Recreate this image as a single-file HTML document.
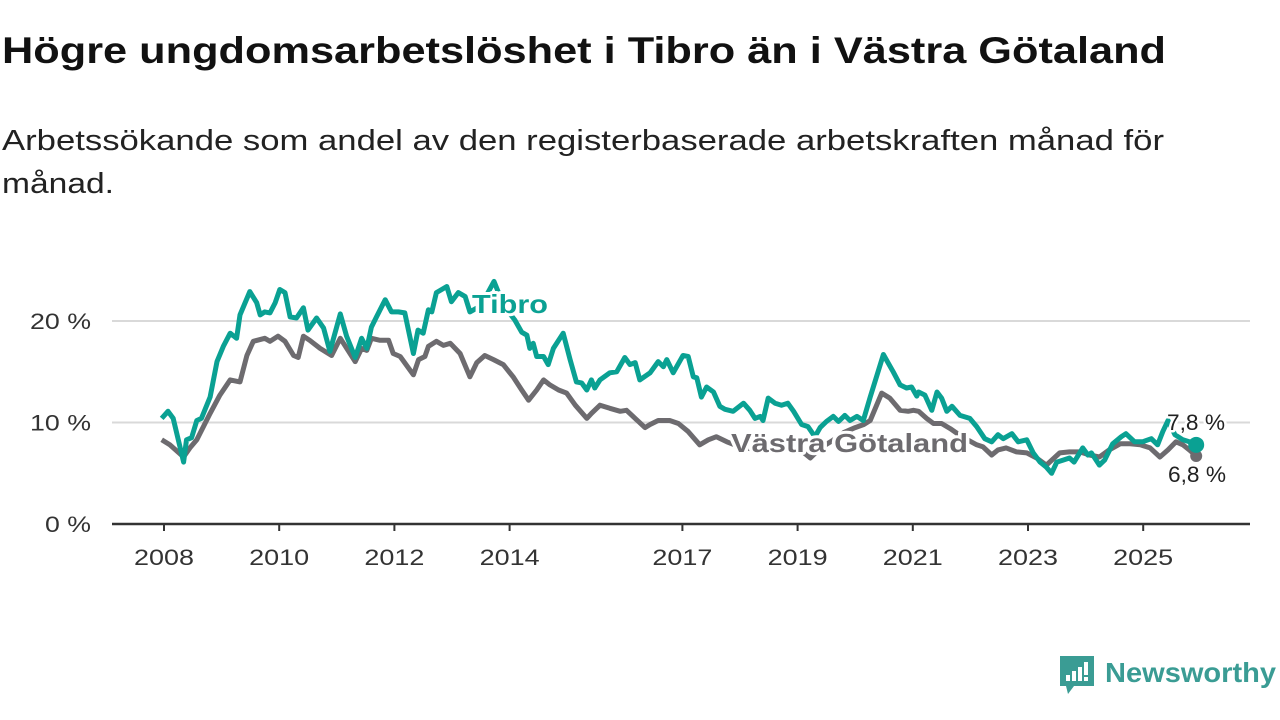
<!DOCTYPE html>
<html><head><meta charset="utf-8"><style>
html,body{margin:0;padding:0;background:#fff;}
svg{display:block;font-family:"Liberation Sans","DejaVu Sans",sans-serif;}
</style></head><body>
<svg id="chart" width="1280" height="720" viewBox="0 0 1280 720">
<text x="2" y="63" font-size="37" font-weight="bold" fill="#111" textLength="1164" lengthAdjust="spacingAndGlyphs">Högre ungdomsarbetslöshet i Tibro än i Västra Götaland</text>
<text x="2" y="150" font-size="29" fill="#222" textLength="1162" lengthAdjust="spacingAndGlyphs">Arbetssökande som andel av den registerbaserade arbetskraften månad för</text>
<text x="2" y="193" font-size="29" fill="#222" textLength="112" lengthAdjust="spacingAndGlyphs">månad.</text>
<g id="grid"></g>
<g id="xaxis"></g>
<g id="series"></g>
<g id="labels"></g>
<g>
<path d="M1060 656 h34 v30 h-20 l-6 8 l-2-8 h-6 z" fill="#3a9c94"/>
<rect x="1066" y="675" width="4" height="6" fill="#fff"/>
<rect x="1072" y="671" width="4" height="10" fill="#fff"/>
<rect x="1078" y="667" width="4" height="14" fill="#fff"/>
<rect x="1084" y="662" width="4" height="13" fill="#fff"/>
<rect x="1084" y="677" width="4" height="4" fill="#fff"/>
<text x="1105" y="682" font-size="28" font-weight="bold" fill="#3a9c94" textLength="171" lengthAdjust="spacingAndGlyphs">Newsworthy</text>
</g>
</svg>
<script>
const yTicks=[0,10,20];
const yTickLabels=["0 %","10 %","20 %"];
const xTicks=[2008,2010,2012,2014,2017,2019,2021,2023,2025];
const tibroDates=[2007.96,2008.07,2008.16,2008.34,2008.39,2008.48,2008.57,2008.65,2008.8,2008.92,2009.03,2009.15,2009.26,2009.32,2009.49,2009.61,2009.67,2009.75,2009.84,2009.93,2010.01,2010.1,2010.19,2010.3,2010.42,2010.5,2010.65,2010.77,2010.88,2011.06,2011.17,2011.32,2011.43,2011.52,2011.6,2011.69,2011.84,2011.95,2012.07,2012.18,2012.33,2012.41,2012.5,2012.59,2012.65,2012.73,2012.91,2012.99,2013.11,2013.23,2013.31,2013.5,2013.73,2013.9,2014.09,2014.21,2014.3,2014.35,2014.41,2014.47,2014.59,2014.67,2014.76,2014.93,2015.05,2015.16,2015.25,2015.34,2015.42,2015.48,2015.57,2015.74,2015.86,2016.0,2016.09,2016.18,2016.26,2016.44,2016.58,2016.67,2016.73,2016.84,2017.01,2017.1,2017.19,2017.25,2017.33,2017.42,2017.54,2017.65,2017.74,2017.88,2018.06,2018.17,2018.26,2018.35,2018.4,2018.49,2018.61,2018.72,2018.83,2018.93,2019.07,2019.18,2019.3,2019.39,2019.5,2019.62,2019.71,2019.82,2019.91,2020.03,2020.14,2020.26,2020.49,2020.66,2020.78,2020.89,2020.98,2021.07,2021.1,2021.21,2021.33,2021.42,2021.5,2021.59,2021.68,2021.82,2021.99,2022.11,2022.25,2022.37,2022.48,2022.57,2022.72,2022.83,2022.98,2023.09,2023.21,2023.32,2023.41,2023.5,2023.61,2023.72,2023.8,2023.95,2024.04,2024.1,2024.24,2024.33,2024.47,2024.62,2024.7,2024.85,2024.99,2025.14,2025.25,2025.34,2025.43,2025.55,2025.69,2025.8,2025.92];
const tibroValues=[10.4,11.1,10.4,6.1,8.3,8.5,10.2,10.4,12.5,16.0,17.5,18.8,18.3,20.6,22.9,21.8,20.6,20.9,20.8,21.8,23.1,22.8,20.4,20.3,21.3,19.1,20.3,19.3,17.0,20.7,18.5,16.4,18.3,17.3,19.4,20.4,22.1,20.9,20.9,20.8,16.8,19.1,18.8,21.1,20.9,22.8,23.4,21.9,22.8,22.4,20.9,21.5,23.9,21.5,20.1,18.9,18.6,17.3,17.8,16.5,16.5,15.7,17.3,18.8,16.2,14.0,13.9,13.2,14.2,13.4,14.2,14.9,15.0,16.4,15.7,15.9,14.2,14.9,16.0,15.5,16.2,14.9,16.6,16.5,14.5,14.4,12.5,13.5,13.0,11.6,11.3,11.1,11.9,11.2,10.4,10.6,10.2,12.4,11.9,11.7,11.9,11.1,9.8,9.6,8.6,9.5,10.1,10.6,10.1,10.7,10.2,10.6,10.2,12.5,16.7,15.0,13.7,13.4,13.5,12.6,13.0,12.7,11.2,13.0,12.4,11.1,11.6,10.7,10.4,9.6,8.4,8.1,8.8,8.4,8.9,8.1,8.3,7.0,6.1,5.6,5.0,6.1,6.3,6.5,6.1,7.5,6.8,7.0,5.8,6.3,7.9,8.6,8.9,8.1,8.1,8.4,7.8,9.1,10.2,8.8,8.3,8.1,7.8];
const vgDates=[2007.96,2008.1,2008.34,2008.45,2008.57,2008.8,2008.97,2009.15,2009.32,2009.44,2009.55,2009.75,2009.84,2009.98,2010.1,2010.25,2010.33,2010.42,2010.53,2010.71,2010.91,2011.06,2011.32,2011.43,2011.52,2011.6,2011.75,2011.9,2011.98,2012.1,2012.33,2012.42,2012.53,2012.59,2012.73,2012.85,2012.97,2013.14,2013.31,2013.43,2013.57,2013.72,2013.89,2014.06,2014.21,2014.33,2014.47,2014.59,2014.7,2014.85,2014.99,2015.14,2015.34,2015.42,2015.57,2015.74,2015.92,2016.03,2016.35,2016.44,2016.58,2016.78,2016.93,2017.1,2017.3,2017.45,2017.59,2017.77,2018.0,2018.3,2018.6,2018.9,2019.05,2019.22,2019.4,2019.6,2019.8,2020.0,2020.15,2020.26,2020.46,2020.6,2020.78,2020.92,2021.01,2021.1,2021.24,2021.36,2021.5,2021.65,2021.85,2022.11,2022.22,2022.37,2022.48,2022.62,2022.8,2022.98,2023.15,2023.32,2023.55,2023.72,2023.9,2024.07,2024.24,2024.41,2024.6,2024.77,2024.95,2025.12,2025.29,2025.43,2025.57,2025.69,2025.8,2025.92];
const vgValues=[8.3,7.8,6.6,7.5,8.3,10.9,12.7,14.2,14.0,16.6,18.0,18.3,18.0,18.5,18.0,16.6,16.4,18.5,18.1,17.3,16.6,18.3,16.0,17.3,17.1,18.3,18.1,18.1,16.8,16.5,14.7,16.2,16.5,17.5,18.0,17.6,17.8,16.8,14.5,15.9,16.6,16.2,15.7,14.5,13.2,12.2,13.2,14.2,13.7,13.2,12.9,11.7,10.4,10.9,11.7,11.4,11.1,11.2,9.5,9.8,10.2,10.2,9.9,9.1,7.8,8.3,8.6,8.1,7.6,7.3,7.6,7.8,7.3,6.5,7.5,8.2,9.0,9.5,9.8,10.2,12.9,12.4,11.2,11.1,11.2,11.1,10.4,9.9,9.9,9.4,8.6,7.8,7.6,6.8,7.3,7.5,7.1,7.0,6.5,5.8,7.0,7.1,7.1,6.8,6.6,7.3,7.9,7.9,7.8,7.5,6.6,7.3,8.1,7.8,7.3,6.7];
const NS="http://www.w3.org/2000/svg";
const X0=112,X1=1250;
function xs(t){return 164+(t-2008)*57.6;}
function ys(v){return 524-v*10.15;}
function mk(tag,attrs,parent){const e=document.createElementNS(NS,tag);for(const k in attrs)e.setAttribute(k,attrs[k]);parent.appendChild(e);return e;}
const grid=document.getElementById('grid');
yTicks.forEach((v,i)=>{
  if(v>0){const l=mk('line',{x1:X0,x2:X1,y1:ys(v),y2:ys(v),stroke:'#d9d9d9','stroke-width':2},grid);
  
  }
  const t=mk('text',{x:91,y:ys(v)+8,'text-anchor':'end','font-size':22,fill:'#333',textLength:yTickLabels[i].length>3?61:46,lengthAdjust:'spacingAndGlyphs'},grid);
  t.textContent=yTickLabels[i];
  
  
});
const xa=document.getElementById('xaxis');
const al=mk('line',{x1:X0,x2:X1,y1:524,y2:524,stroke:'#333','stroke-width':2.5},xa);


xTicks.forEach(y=>{
  const tk=mk('line',{x1:xs(y),x2:xs(y),y1:524,y2:531,stroke:'#333','stroke-width':2},xa);
  
  
  const t=mk('text',{x:xs(y)-30,y:565,'font-size':22,fill:'#333',textLength:60,lengthAdjust:'spacingAndGlyphs'},xa);
  t.textContent=y;
  
  
});
function path(d,v){return d.map((t,i)=>(i?'L':'M')+xs(t).toFixed(1)+' '+ys(v[i]).toFixed(1)).join(' ');}
const s=document.getElementById('series');
const pv=mk('path',{d:path(vgDates,vgValues),fill:'none',stroke:'#6d6b6f','stroke-width':5,'stroke-linejoin':'round'},s);


const pt=mk('path',{d:path(tibroDates,tibroValues),fill:'none',stroke:'#0aa193','stroke-width':5,'stroke-linejoin':'round'},s);


const lt=tibroDates.length-1,lv=vgDates.length-1;
const dv=mk('circle',{cx:xs(vgDates[lv]),cy:ys(vgValues[lv]),r:6,fill:'#6d6b6f'},s);


const dt=mk('circle',{cx:xs(tibroDates[lt]),cy:ys(tibroValues[lt]),r:8,fill:'#0aa193'},s);


const lb=document.getElementById('labels');
function lab(x,y,txt,col,bold,w,name){
  const t=mk('text',{x:x,y:y,'font-size':bold?26:22,'font-weight':bold?'bold':'normal',fill:col,stroke:'#fff','stroke-width':bold?6:5,'paint-order':'stroke','stroke-linejoin':'round',textLength:w,lengthAdjust:'spacingAndGlyphs'},lb);
  t.textContent=txt;
  
  
}
lab(472,313,'Tibro','#0aa193',true,76,'tibro-label');
lab(731,452,'Västra Götaland','#6d6b6f',true,237,'vastra-gotaland-label');
lab(1167,430,'7,8 %','#222',false,58,'tibro-end-value');
lab(1168,482,'6,8 %','#222',false,58,'vastra-gotaland-end-value');
</script>
</body></html>
